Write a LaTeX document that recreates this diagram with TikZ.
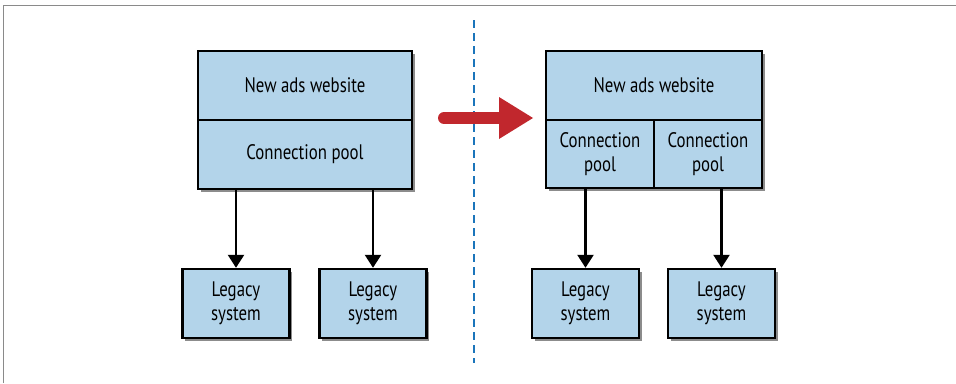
\documentclass[tikz,border=0pt]{standalone}
\usepackage{fontspec}
\setmainfont{PT Sans}[FakeStretch=0.8]
\usetikzlibrary{shadows,arrows.meta}
\definecolor{boxblue}{HTML}{B3D4EA}
\definecolor{arrred}{HTML}{C1272D}
\definecolor{dashblue}{HTML}{1B75BB}
\definecolor{framegray}{HTML}{8A8A8A}
\tikzset{
  box/.style={draw=black, line width=2.4pt, fill=boxblue, inner sep=0pt,
    align=center, font=\fontsize{21}{23.5}\selectfont,
    drop shadow={shadow xshift=2.5pt, shadow yshift=-2.5pt, opacity=0.45, fill=black}},
  conn/.style={line width=2.4pt, -{Triangle[width=16pt,length=13pt]}},
}
\begin{document}
\begin{tikzpicture}[x=1pt,y=-1pt]
\useasboundingbox (0,0) rectangle (956,383);
% frame
\draw[framegray, line width=1.4pt] (3.5,383) -- (3.5,5.5) -- (956,5.5);
% left side
\node[box, minimum width=214pt, minimum height=69pt] (web1) at (305,85.5) {New ads website};
\node[box, minimum width=214pt, minimum height=69pt] (pool1) at (305,154.5) {Connection pool};
\node[box, minimum width=107pt, minimum height=69pt] (leg1) at (236,303.5) {Legacy\\system};
\node[box, minimum width=107pt, minimum height=69pt] (leg2) at (373,303.5) {Legacy\\system};
\draw[conn] (pool1.south -| leg1.north) -- (leg1.north);
\draw[conn] (pool1.south -| leg2.north) -- (leg2.north);
% divider
\coordinate (dtop) at (474,20);
\coordinate (dbot) at (474,363);
\draw[dashblue, line width=2.8pt, dash pattern=on 8pt off 5pt] (dtop) -- (dbot);
% red arrow
\coordinate (ashaft) at (444,118);
\coordinate (abase) at (499,118);
\coordinate (atip) at (533,118);
\draw[arrred, line width=12pt, line cap=round] (ashaft) -- (abase);
\fill[arrred] ([yshift=-21pt]abase) -- (atip) -- ([yshift=21pt]abase) -- cycle;
% right side
\node[box, minimum width=216pt, minimum height=69pt] (web2) at (654,85.5) {New ads website};
\node[box, minimum width=108pt, minimum height=68pt] (pool2a) at (600,154) {Connection\\pool};
\node[box, minimum width=108pt, minimum height=68pt] (pool2b) at (708,154) {Connection\\pool};
\node[box, minimum width=107pt, minimum height=69pt] (leg3) at (585.5,303.5) {Legacy\\system};
\node[box, minimum width=107pt, minimum height=69pt] (leg4) at (721.5,303.5) {Legacy\\system};
\draw[conn] (pool2a.south -| leg3.north) -- (leg3.north);
\draw[conn] (pool2b.south -| leg4.north) -- (leg4.north);
\end{tikzpicture}
\end{document}
